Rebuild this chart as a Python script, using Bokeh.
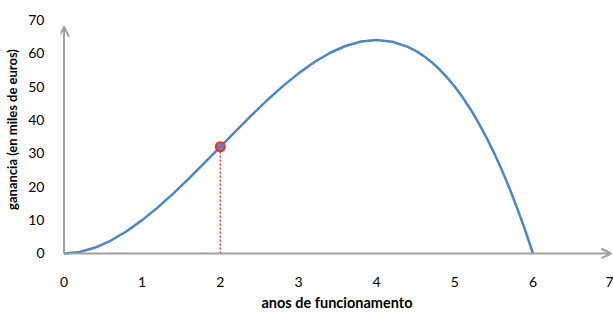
from bokeh.plotting import figure
from bokeh.models import Arrow, OpenHead, FixedTicker, Range1d
from bokeh.embed import file_html
from bokeh.resources import INLINE

years = [0, 0.2, 0.4, 0.6, 0.8, 1.0, 1.2, 1.4, 1.6, 1.8, 2.0, 2.2, 2.4, 2.6, 2.8,
         3.0, 3.2, 3.4, 3.6, 3.8, 4.0, 4.2, 4.4, 4.5, 4.6, 4.7, 4.8, 4.9, 5.0,
         5.1, 5.2, 5.3, 5.4, 5.5, 5.6, 5.7, 5.8, 5.9, 6.0]
gain = [0, 0.46, 1.79, 3.89, 6.66, 10, 13.82, 18.03, 22.53, 27.22, 32, 36.78, 41.47,
        45.97, 50.18, 54, 57.34, 60.11, 62.21, 63.54, 64, 63.5, 61.95, 60.75, 59.25,
        57.43, 55.3, 52.82, 50, 46.82, 43.26, 39.33, 34.99, 30.25, 25.09, 19.49,
        13.46, 6.96, 0]
pt_x = [2]
pt_y = [32]
x_ticks = [0, 1, 2, 3, 4, 5, 6, 7]
y_ticks = [0, 10, 20, 30, 40, 50, 60, 70]

FONT = "Lato"
AXC = "#a0a0a0"

p = figure(width=613, height=313, output_backend="svg", toolbar_location=None,
           x_range=Range1d(-0.045, 7.03), y_range=Range1d(-1.5, 75.85),
           min_border_left=60, min_border_right=0, min_border_top=0, min_border_bottom=55)
p.outline_line_color = None
p.grid.grid_line_color = None

for ax in (p.xaxis[0], p.yaxis[0]):
    ax.axis_line_color = None
    ax.major_tick_line_color = None
    ax.minor_tick_line_color = None
    ax.major_label_text_font = FONT
    ax.major_label_text_font_size = "14px"
    ax.major_label_text_color = "#000000"
    ax.axis_label_text_font = FONT
    ax.axis_label_text_font_style = "bold"
    ax.axis_label_text_color = "#000000"

p.xaxis[0].axis_label_text_font_size = "14.5px"
p.yaxis[0].axis_label_text_font_size = "13px"
p.xaxis[0].ticker = FixedTicker(ticks=x_ticks)
p.yaxis[0].ticker = FixedTicker(ticks=y_ticks)
p.xaxis[0].major_label_standoff = 12
p.yaxis[0].major_label_standoff = 10
p.xaxis.axis_label = "anos de funcionamento"
p.yaxis.axis_label = "ganancia (en miles de euros)"
p.xaxis[0].axis_label_standoff = 4
p.yaxis[0].axis_label_standoff = 5

# axes with arrows
p.add_layout(Arrow(end=OpenHead(line_color=AXC, line_width=2, size=10),
                   x_start=0, y_start=0, x_end=7.0, y_end=0,
                   line_color=AXC, line_width=2))
p.add_layout(Arrow(end=OpenHead(line_color=AXC, line_width=2, size=10),
                   x_start=0, y_start=0, x_end=0, y_end=68,
                   line_color=AXC, line_width=2))

p.line(years, gain, line_color="#4a86c8", line_width=2.5, line_join="round")
p.segment(x0=pt_x, y0=[0], x1=pt_x, y1=pt_y, line_color="#e8312a",
          line_width=1.5, line_dash="2 2")
p.scatter(pt_x, pt_y, size=9, fill_color="#6f7fa8", line_color="#e8312a", line_width=2)

open("out.html", "w").write(file_html(p, INLINE))
